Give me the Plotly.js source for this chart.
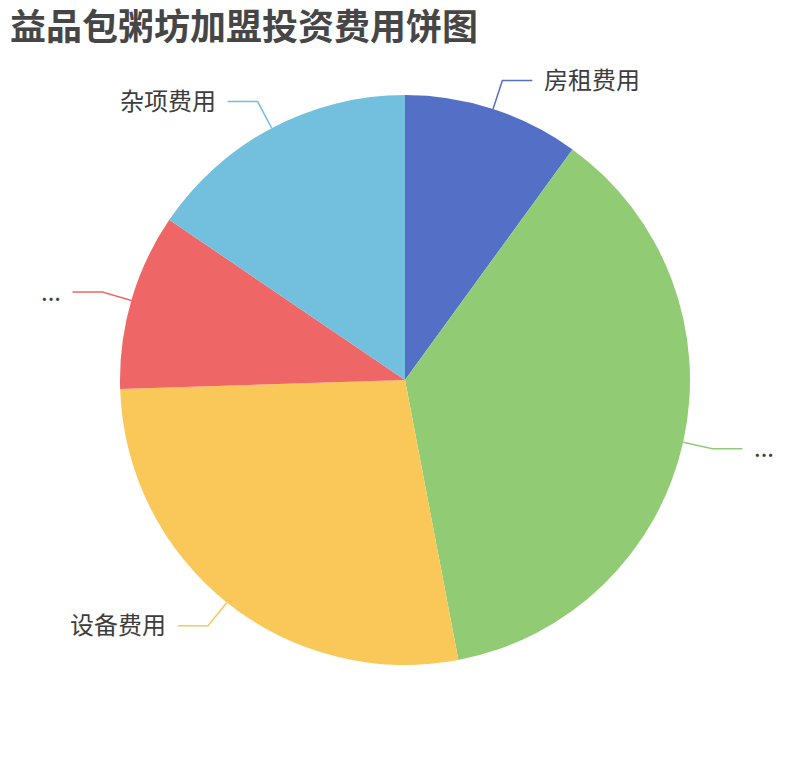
<!DOCTYPE html>
<html>
<head>
<meta charset="utf-8">
<script src="https://cdn.plot.ly/plotly-3.0.1.min.js"></script>
<style>
  html, body { margin: 0; padding: 0; background: #fff; }
  #chart { width: 810px; height: 760px; }
</style>
</head>
<body>
<div id="chart"></div>
<script>
'use strict';

// 数据
var labels = ['房租费用', '...', '设备费用', '...', '杂项费用'];
var values = [10, 37, 27.5, 10, 15.5];
var colors = ['#5470c6', '#91cc75', '#fac858', '#ee6666', '#73c0de'];

var W = 810, H = 760;
var FONT = '"Noto Sans CJK SC", "Noto Sans", sans-serif';

// 饼图区域 (paper)
var domX = [120 / W, 690 / W];
var domY = [95 / H, 665 / H];

var cx = (domX[0] + domX[1]) / 2 * W;
var cy = (1 - (domY[0] + domY[1]) / 2) * H;
var R = Math.min((domX[1] - domX[0]) * W, (domY[1] - domY[0]) * H) / 2;

var len1 = 30, len2 = 30, gap = 10;

function px(x) { return x / W; }
function py(y) { return 1 - y / H; }

var total = values.reduce(function (a, b) { return a + b; }, 0);
var shapes = [];
var annotations = [];
var acc = 0;

for (var i = 0; i < values.length; i++) {
  var mid = (acc + values[i] / 2) / total * 2 * Math.PI;
  acc += values[i];
  var s = Math.sin(mid), c = Math.cos(mid);
  var x1 = cx + R * s, y1 = cy - R * c;
  var x2 = cx + (R + len1) * s, y2 = cy - (R + len1) * c;
  var right = s >= 0;
  var x3 = right ? x2 + len2 : x2 - len2;

  shapes.push({
    type: 'path',
    xref: 'paper', yref: 'paper',
    path: 'M ' + px(x1) + ',' + py(y1) + ' L ' + px(x2) + ',' + py(y2) + ' L ' + px(x3) + ',' + py(y2),
    line: { color: colors[i], width: 1.5 }
  });

  annotations.push({
    xref: 'paper', yref: 'paper',
    x: px(right ? x3 + gap : x3 - gap),
    y: py(y2),
    yshift: 2,
    xanchor: right ? 'left' : 'right',
    yanchor: 'middle',
    text: labels[i],
    showarrow: false,
    font: { family: FONT, size: 24, color: '#3d3d3d' }
  });
}

var trace = {
  type: 'pie',
  labels: labels.map(function (l, k) { return l + k; }),
  values: values,
  sort: false,
  direction: 'clockwise',
  rotation: 0,
  textinfo: 'none',
  hoverinfo: 'none',
  marker: { colors: colors, line: { width: 0 } },
  domain: { x: domX, y: domY }
};

var layout = {
  width: W,
  height: H,
  margin: { l: 0, r: 0, t: 0, b: 0 },
  paper_bgcolor: '#fff',
  showlegend: false,
  title: {
    text: '<b>益品包粥坊加盟投资费用饼图</b>',
    x: 10 / W,
    xanchor: 'left',
    xref: 'paper',
    yref: 'container',
    y: 1 - 27 / H,
    yanchor: 'middle',
    font: { family: FONT, size: 36, color: '#464646' }
  },
  shapes: shapes,
  annotations: annotations
};

Plotly.newPlot('chart', [trace], layout, { displayModeBar: false, staticPlot: true });
</script>
</body>
</html>
